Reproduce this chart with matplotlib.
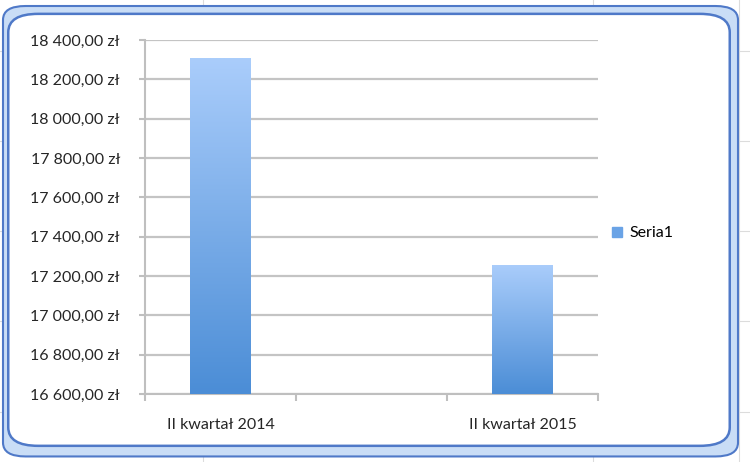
import numpy as np
import matplotlib
matplotlib.use("Agg")
import matplotlib.pyplot as plt
from matplotlib.patches import FancyBboxPatch
from matplotlib.colors import LinearSegmentedColormap

categories = ["II kwartał 2014", "", "II kwartał 2015"]
values = [18308, None, 17256]
series_name = "Seria1"
y_ticks = [16600, 16800, 17000, 17200, 17400, 17600, 17800, 18000, 18200, 18400]

plt.rcParams["font.family"] = ["Lato", "DejaVu Sans"]

fig = plt.figure(figsize=(7.5, 4.62), dpi=100)
fig.patch.set_facecolor("white")

# spreadsheet behind the chart object
for yy in [0.108, 0.305, 0.5, 0.695, 0.89]:
    fig.add_artist(plt.Line2D([0, 1], [yy, yy], color="#dcdcdc", lw=0.8, zorder=0))
for xx in [0.27, 0.79, 0.985]:
    fig.add_artist(plt.Line2D([xx, xx], [0, 1], color="#dcdcdc", lw=0.8, zorder=0))

outer = FancyBboxPatch((0.004, 0.012), 0.98, 0.975, boxstyle="round,pad=0,rounding_size=0.03",
                       transform=fig.transFigure, facecolor="#c9ddf6", edgecolor="#4f79c8",
                       lw=1.5, zorder=1)
inner = FancyBboxPatch((0.011, 0.035), 0.962, 0.935, boxstyle="round,pad=0,rounding_size=0.04",
                       transform=fig.transFigure, facecolor="white", edgecolor="#4f79c8",
                       lw=1.8, zorder=2)
fig.add_artist(outer)
fig.add_artist(inner)

ax = fig.add_axes([0.1933, 0.1472, 0.604, 0.7662], zorder=3)
ax.set_facecolor("none")

x = np.arange(len(categories))
xs = [i for i, v in zip(x, values) if v is not None]
hs = [v - y_ticks[0] for v in values if v is not None]
bars = ax.bar(xs, hs, bottom=y_ticks[0], width=0.4, color="none", zorder=3,
              label=series_name)

cmap = LinearSegmentedColormap.from_list("bar", ["#4b8dd6", "#aacdfb"])
grad = np.linspace(0, 1, 256).reshape(-1, 1)
for b in bars:
    x0, y0 = b.get_x(), b.get_y()
    im = ax.imshow(grad, cmap=cmap, origin="lower", aspect="auto",
                   extent=[x0, x0 + b.get_width(), y0, y0 + b.get_height()], zorder=3)
    im.set_clip_path(b)

ax.set_xlim(-0.5, len(categories) - 0.5)
ax.set_ylim(y_ticks[0], y_ticks[-1])
ax.set_yticks(y_ticks)
ax.set_yticklabels([f"{v // 1000} {v % 1000:03d},00 zł" for v in y_ticks], fontsize=11.5,
                   color="#262626")
ax.set_xticks(x)
ax.set_xticklabels(categories, fontsize=11.5, color="#262626")
ax.set_xticks(np.arange(len(categories) + 1) - 0.5, minor=True)
ax.tick_params(axis="x", which="major", length=0, pad=17)
ax.tick_params(axis="x", which="minor", length=5, width=1.5, color="#bfbfbf")
ax.tick_params(axis="y", length=4, width=1.5, color="#bfbfbf", pad=14)
ax.grid(axis="y", color="#c4c4c4", lw=1.6, zorder=1)
ax.set_axisbelow(True)
for s in ["top", "right"]:
    ax.spines[s].set_visible(False)
for s in ["left", "bottom"]:
    ax.spines[s].set_color("#bfbfbf")
    ax.spines[s].set_linewidth(1.5)

handle = plt.Rectangle((0, 0), 1, 1, color="#6aa3e6")
fig.legend([handle], [series_name], loc="center left", bbox_to_anchor=(0.797, 0.495),
           frameon=False, fontsize=11.5, handlelength=0.6, handleheight=0.6,
           handletextpad=0.5)

fig.savefig("out.png", dpi=100)
